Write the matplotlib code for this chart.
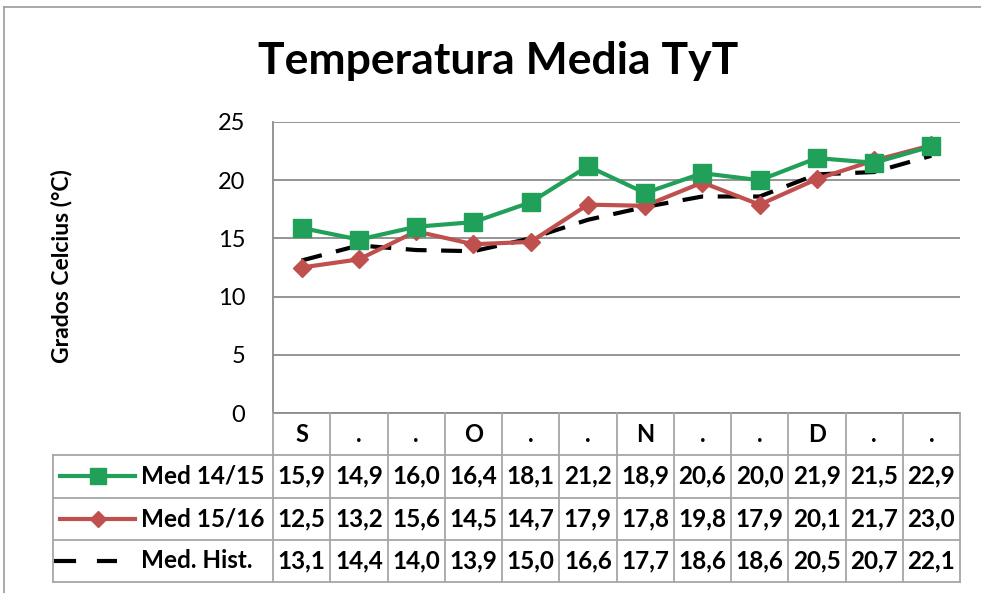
import matplotlib
matplotlib.use("Agg")
import matplotlib.pyplot as plt
from matplotlib.lines import Line2D

plt.rcParams['font.family'] = ['Lato', 'DejaVu Sans']

categories = ["S", ".", ".", "O", ".", ".", "N", ".", ".", "D", ".", "."]
med_1415 = [15.9, 14.9, 16.0, 16.4, 18.1, 21.2, 18.9, 20.6, 20.0, 21.9, 21.5, 22.9]
med_1516 = [12.5, 13.2, 15.6, 14.5, 14.7, 17.9, 17.8, 19.8, 17.9, 20.1, 21.7, 23.0]
med_hist = [13.1, 14.4, 14.0, 13.9, 15.0, 16.6, 17.7, 18.6, 18.6, 20.5, 20.7, 22.1]
series_names = ["Med 14/15", "Med 15/16", "Med. Hist."]
yticks = [0, 5, 10, 15, 20, 25]

W, H = 981, 593
GREEN = '#20A058'
RED = '#C0504D'
GRID = '#8C8C8C'
TAB = '#A6A6A6'

fig = plt.figure(figsize=(W / 100, H / 100), dpi=100)

def fx(x):
    return x / W

def fy(y):
    return 1 - y / H

# outer chart border
fig.add_artist(Line2D([fx(4), fx(4)], [fy(7), fy(600)], color='#9A9A9A', lw=1.2))
fig.add_artist(Line2D([fx(4), fx(990)], [fy(7), fy(7)], color='#9A9A9A', lw=1.2))

PL, PR, PT, PB = 273, 960, 122, 413
ax = fig.add_axes([fx(PL), fy(PB), (PR - PL) / W, (PB - PT) / H])
n = len(categories)
xs = list(range(n))
ax.set_xlim(-0.5, n - 0.5)
ax.set_ylim(0, 25)
ax.set_yticks(yticks)
ax.set_yticklabels([str(t) for t in yticks], fontsize=17)
ax.tick_params(axis='y', length=0, pad=20)
ax.set_xticks([])
for s in ['top', 'right']:
    ax.spines[s].set_visible(False)
for s in ['left', 'bottom']:
    ax.spines[s].set_color(GRID)
    ax.spines[s].set_linewidth(1.3)
ax.yaxis.grid(True, color=GRID, lw=1.3)
ax.set_axisbelow(True)

ax.plot(xs, med_hist, color='black', lw=3, dashes=(5, 3.5), zorder=3)
ax.plot(xs, med_1516, color=RED, lw=3, marker='D', ms=9.5, mfc=RED, mec=RED, zorder=4)
ax.plot(xs, med_1415, color=GREEN, lw=3, marker='s', ms=13, mfc=GREEN, mec=GREEN, zorder=5)

fig.text(fx(61), fy(266), "Grados Celcius (°C)", rotation=90, fontsize=16.5,
         fontweight='bold', ha='center', va='center')

fig.text(fx(498), fy(74), "Temperatura Media TyT", fontsize=32, fontweight='bold',
         ha='center', va='baseline')

# data table
TL, TB = 53, 582
unit = (PR - PL) / n
xleft = -0.5 - (PL - TL) / unit
tab = fig.add_axes([fx(TL), fy(TB), (PR - TL) / W, (TB - PB) / H])
tab.set_xlim(xleft, n - 0.5)
tab.set_ylim(4, 0)
tab.axis('off')

for k in range(1, 5):
    tab.plot([xleft, n - 0.5], [k, k], color=TAB, lw=1.3, clip_on=False)
for k in range(n + 1):
    tab.plot([k - 0.5, k - 0.5], [0, 4], color=TAB, lw=1.3, clip_on=False)
tab.plot([xleft, xleft], [1, 4], color=TAB, lw=1.3, clip_on=False)

for i, c in enumerate(categories):
    tab.text(i, 0.5, c, ha='center', va='center', fontsize=17, fontweight='bold')

all_series = [med_1415, med_1516, med_hist]
for r, vals in enumerate(all_series):
    for i, v in enumerate(vals):
        tab.text(i, r + 1.5, f"{v:.1f}".replace('.', ','), ha='center', va='center',
                 fontsize=17.5, fontweight='bold')

def px2tx(x):
    return -0.5 - (PL - x) / unit

# legend keys
tab.plot([px2tx(60), px2tx(135)], [1.5, 1.5], color=GREEN, lw=3, clip_on=False)
tab.plot([px2tx(98)], [1.5], marker='s', ms=11, color=GREEN, clip_on=False)
tab.plot([px2tx(60), px2tx(135)], [2.5, 2.5], color=RED, lw=3, clip_on=False)
tab.plot([px2tx(98)], [2.5], marker='D', ms=8, color=RED, clip_on=False)
tab.plot([px2tx(54), px2tx(117)], [3.5, 3.5], color='black', lw=3, dashes=(5.3, 5.0),
         clip_on=False)

for r, name in enumerate(series_names):
    tab.text(px2tx(141), r + 1.5, name, ha='left', va='center', fontsize=17.5,
             fontweight='bold')

fig.savefig("out.png", dpi=100)
